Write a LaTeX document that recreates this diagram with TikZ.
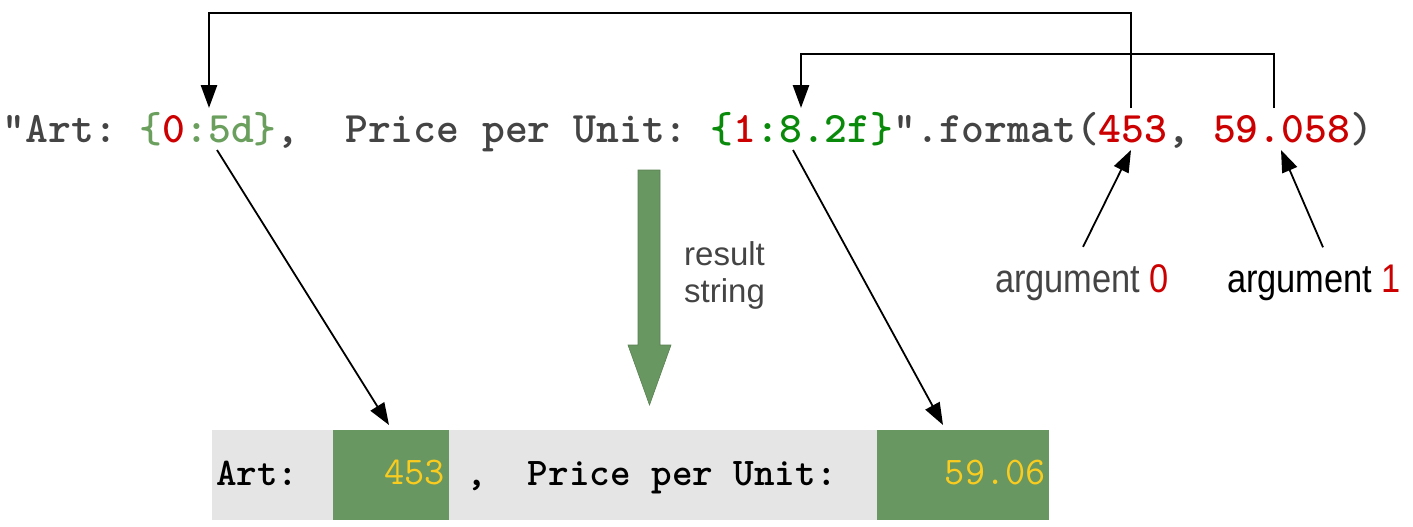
\documentclass[tikz,border=0pt]{standalone}
\usepackage{fontspec}
\usetikzlibrary{arrows.meta}
\newfontfamily\labelfont{Liberation Sans}[FakeStretch=0.86]
\newfontfamily\notefont{Liberation Sans}

\definecolor{codegray}{HTML}{444444}
\definecolor{fmtgreen}{HTML}{6A9F5E}
\definecolor{fmtgreendark}{HTML}{0A8A0A}
\definecolor{argred}{HTML}{CC0000}
\definecolor{boxgreen}{HTML}{699761}
\definecolor{bargray}{HTML}{E5E5E5}
\definecolor{numyellow}{HTML}{F9CC1F}

\tikzset{
  code/.style={inner sep=0pt, font=\fontsize{43.5}{46}\selectfont\ttfamily\bfseries\frenchspacing},
  outcode/.style={inner sep=0pt, font=\fontsize{39.2}{42}\selectfont\ttfamily\bfseries\frenchspacing},
  outnum/.style={inner sep=0pt, text=numyellow, font=\fontsize{39.2}{42}\selectfont\ttfamily\mdseries},
  arglabel/.style={inner sep=0pt, font=\fontsize{40}{44}\selectfont\labelfont},
  note/.style={inner sep=0pt, text=codegray, font=\fontsize{33}{37}\selectfont\notefont},
  bracket/.style={line width=2.8pt, -{Triangle[length=23pt,width=16pt]}},
  pointer/.style={line width=1.8pt, -{Triangle[length=22pt,width=16pt]}},
  cell/.style={inner sep=0pt, minimum height=90pt}
}

\begin{document}
\begin{tikzpicture}[x=1pt,y=-1pt]
\useasboundingbox (0,0) rectangle (1413,527);

% the format call
\node[code, anchor=base west] (src) at (2.5,142) {%
\textcolor{codegray}{"Art:~}\textcolor{fmtgreen}{\{}\textcolor{argred}{0}\textcolor{fmtgreen}{:5d\}}%
\textcolor{codegray}{,~~Price~per~Unit:~}%
\textcolor{fmtgreendark}{\{}\textcolor{argred}{1}\textcolor{fmtgreendark}{:8.2f\}}%
\textcolor{codegray}{".format(}\textcolor{argred}{453}\textcolor{codegray}{,~}\textcolor{argred}{59.058}\textcolor{codegray}{)}};

% points on the format call
\coordinate (f0) at (209,108);
\coordinate (f1) at (801,108);
\coordinate (a0) at (1131,108);
\coordinate (a1) at (1274,108);
\coordinate (f0low) at (217,150);
\coordinate (f1low) at (793,150);
\coordinate (a0low) at (1131,150);
\coordinate (a1low) at (1281,150);
\coordinate (lane0) at (0,13);
\coordinate (lane1) at (0,54);

% arguments routed to their fields
\draw[bracket] (a0) -- (a0 |- lane0) -| (f0);
\draw[bracket] (a1) -- (a1 |- lane1) -| (f1);

% argument labels
\node[arglabel, anchor=base] (arg0) at (1082,292) {\textcolor{codegray}{argument }\textcolor{argred}{0}};
\node[arglabel, anchor=base] (arg1) at (1314,292) {\textcolor{black}{argument }\textcolor{argred}{1}};
\draw[pointer] ([xshift=1pt,yshift=17pt]arg0.north) -- (a0low);
\draw[pointer] ([xshift=9pt,yshift=17pt]arg1.north) -- (a1low);

% result arrow
\draw[fill=boxgreen, draw=boxgreen!85!black, line width=0.6pt]
  (638,170) -- (660,170) -- (660,345) -- (671,345) -- (649.5,405) -- (628,345) -- (638,345) -- cycle;
\node[note, anchor=base west] (res1) at (684,265) {result};
\node[note, anchor=base west] (res2) at (684,302) {string};

% resulting string
\node[cell, fill=bargray, minimum width=836pt, anchor=north west] (bar) at (212,430) {};
\node[cell, fill=boxgreen, minimum width=116pt, anchor=north west] (box0) at (333,430) {};
\node[cell, fill=boxgreen, minimum width=172pt, anchor=north west] (box1) at (877,430) {};

\node[outcode, anchor=base west] (art) at (216,485) {Art:};
\node[outnum, anchor=base east] (n0) at (445,484) {453};
\node[outcode, anchor=base west] (mid) at (466,485) {,~~Price~per~Unit:};
\node[outnum, anchor=base east] (n1) at (1046,484) {59.06};

% fields to their output slots
\coordinate (slot0) at (389,425);
\coordinate (slot1) at (943,425);
\draw[pointer] (f0low) -- (slot0);
\draw[pointer] (f1low) -- (slot1);
\end{tikzpicture}
\end{document}
